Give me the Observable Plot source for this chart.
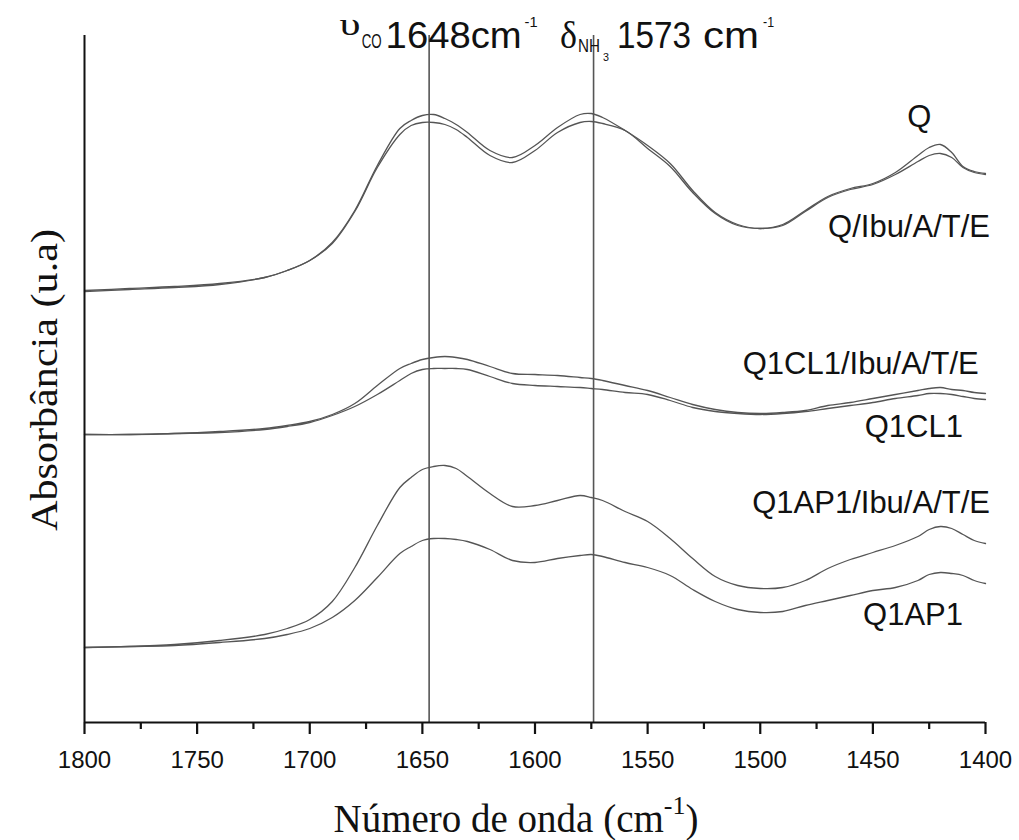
<!DOCTYPE html>
<html><head><meta charset="utf-8">
<script src="https://cdn.jsdelivr.net/npm/d3@7"></script>
<script src="https://cdn.jsdelivr.net/npm/@observablehq/plot@0.6"></script>
<style>body{margin:0;background:#fff}#chart svg{display:block}</style>
</head><body><div id="chart"></div>
<script>
// wavenumber grid (cm-1)
const wavenumber = [1800,1780,1760,1740,1720,1710,1700,1690,1680,1670,1660,1655,1650,1645,1640,1635,1630,1620,1610,1600,1590,1580,1575,1570,1560,1550,1540,1530,1520,1510,1500,1490,1480,1470,1460,1450,1440,1430,1425,1420,1415,1410,1405,1400];
// absorbance (arbitrary units, offset spectra)
const absQ        = [4.32,4.34,4.36,4.39,4.45,4.52,4.62,4.80,5.12,5.57,5.94,6.02,6.07,6.08,6.04,5.98,5.90,5.72,5.65,5.77,5.95,6.08,6.09,6.05,5.92,5.77,5.59,5.32,5.10,4.98,4.94,4.98,5.12,5.26,5.34,5.39,5.50,5.67,5.75,5.78,5.70,5.56,5.51,5.49];
const absQIbu     = [4.31,4.33,4.35,4.38,4.45,4.52,4.62,4.79,5.11,5.55,5.88,5.97,6.00,6.00,5.98,5.93,5.85,5.67,5.60,5.72,5.90,6.00,6.01,5.99,5.92,5.74,5.56,5.30,5.09,4.97,4.94,4.97,5.11,5.25,5.33,5.38,5.48,5.61,5.67,5.69,5.65,5.55,5.50,5.48];
const absQ1CL1Ibu = [2.88,2.88,2.89,2.91,2.94,2.97,3.01,3.08,3.19,3.37,3.54,3.59,3.63,3.65,3.66,3.65,3.63,3.56,3.49,3.48,3.47,3.45,3.44,3.42,3.37,3.32,3.25,3.18,3.13,3.10,3.09,3.10,3.12,3.17,3.20,3.24,3.28,3.32,3.34,3.35,3.33,3.32,3.30,3.29];
const absQ1CL1    = [2.88,2.88,2.89,2.90,2.93,2.96,3.00,3.07,3.16,3.28,3.42,3.49,3.53,3.54,3.54,3.54,3.53,3.46,3.39,3.37,3.36,3.35,3.34,3.33,3.30,3.28,3.22,3.15,3.11,3.09,3.08,3.09,3.11,3.14,3.17,3.20,3.24,3.27,3.29,3.29,3.28,3.26,3.24,3.23];
const absQ1AP1Ibu = [0.75,0.76,0.78,0.82,0.88,0.94,1.03,1.21,1.55,1.97,2.35,2.45,2.53,2.56,2.57,2.54,2.46,2.29,2.16,2.17,2.22,2.27,2.25,2.22,2.11,2.01,1.84,1.64,1.46,1.37,1.34,1.35,1.42,1.54,1.63,1.70,1.77,1.86,1.93,1.96,1.94,1.88,1.82,1.79];
const absQ1AP1    = [0.75,0.76,0.77,0.80,0.84,0.88,0.94,1.05,1.22,1.45,1.69,1.76,1.82,1.84,1.84,1.83,1.81,1.73,1.62,1.60,1.64,1.67,1.68,1.66,1.60,1.55,1.47,1.33,1.21,1.13,1.10,1.11,1.17,1.22,1.27,1.32,1.35,1.42,1.48,1.50,1.49,1.47,1.42,1.39];

const seriesNames = ["Q","Q/Ibu/A/T/E","Q1CL1/Ibu/A/T/E","Q1CL1","Q1AP1/Ibu/A/T/E","Q1AP1"];
const seriesValues = [absQ, absQIbu, absQ1CL1Ibu, absQ1CL1, absQ1AP1Ibu, absQ1AP1];

// curve labels: anchor wavenumber / absorbance (right end of text)
const labelWave = [1424, 1398, 1403, 1410, 1398, 1410];
const labelAbs  = [6.05, 4.95, 3.58, 2.95, 2.19, 1.07];

// band marker lines (cm-1)
const bandLines = [1647, 1574];

const majorTicks = [1800,1750,1700,1650,1600,1550,1500,1450,1400];
const minorTicks = [1775,1725,1675,1625,1575,1525,1475,1425];

const table = seriesNames.flatMap((s, i) => wavenumber.map((w, j) => ({s, w, a: seriesValues[i][j]})));
const labels = seriesNames.map((s, i) => ({s, w: labelWave[i], a: labelAbs[i]}));

const SANS = "'Liberation Sans', Arial, Helvetica, sans-serif";
const SERIF = "'Liberation Serif', 'Times New Roman', Times, serif";

const plot = Plot.plot({
  width: 1019, height: 840,
  marginLeft: 84, marginRight: 34, marginTop: 35, marginBottom: 118,
  x: {domain: [1800, 1400], label: null},
  y: {domain: [0, 6.87], axis: null},
  style: {fontFamily: SANS, fontSize: "24px", color: "#111", background: "#fff", overflow: "visible"},
  marks: [
    Plot.ruleX(bandLines, {stroke: "#555", strokeWidth: 1.6}),
    Plot.line(table, {x: "w", y: "a", z: "s", stroke: "#555", strokeWidth: 1.3, curve: "catmull-rom"}),
    Plot.text(labels, {x: "w", y: "a", text: "s", textAnchor: "end", fontSize: 31, fill: "#111"}),
    Plot.axisX(majorTicks, {tickSize: 12, tickPadding: 16, fontSize: 24, stroke: "#111", strokeWidth: 2.2, label: null, tickFormat: d => String(d)}),
    Plot.axisX(minorTicks, {tickSize: 7, stroke: "#111", strokeWidth: 2.2, label: null, tickFormat: () => ""}),
    Plot.ruleY([0], {stroke: "#111", strokeWidth: 2}),
    Plot.ruleX([1800], {stroke: "#111", strokeWidth: 2})
  ]
});

document.getElementById("chart").appendChild(plot);

const svg = d3.select(plot);
const xs = plot.scale("x");
const lx1 = xs.apply(bandLines[0]);
const lx2 = xs.apply(bandLines[1]);

function piece(x, y, str, family, size, len) {
  const t = svg.append("text")
    .attr("x", x).attr("y", y)
    .attr("text-anchor", "start")
    .attr("font-family", family).attr("font-size", size)
    .attr("fill", "#111")
    .text(str);
  if (len) t.attr("textLength", len).attr("lengthAdjust", "spacingAndGlyphs");
  return t;
}
// υCO 1648 cm-1
piece(lx1 - 89, 35, "υ", SERIF, 32, 21);
piece(lx1 - 67, 48, "CO", SANS, 20, 20);
piece(lx1 - 43, 48, "1648cm", SANS, 36, 136);
piece(lx1 + 96, 27, "-1", SANS, 14, 13);
// δNH3 1573 cm-1
piece(lx2 - 33, 48, "δ", SERIF, 38, 17);
piece(lx2 - 15, 52, "NH", SANS, 18, 22);
piece(lx2 + 10, 61, "3", SANS, 11, 6);
piece(lx2 + 24, 48, "1573", SANS, 36, 74);
piece(lx2 + 110, 48, "cm", SANS, 36, 56);
piece(lx2 + 170, 27, "-1", SANS, 14, 11);

// axis titles
const xt = svg.append("text")
  .attr("x", 516).attr("y", 832).attr("text-anchor", "middle")
  .attr("font-family", SERIF).attr("font-size", 39).attr("fill", "#111");
xt.append("tspan").text("Número de onda (cm");
xt.append("tspan").attr("dy", -18).attr("font-size", 26).text("-1");
xt.append("tspan").attr("dy", 18).text(")");

svg.append("text")
  .attr("transform", "translate(57,380) rotate(-90)")
  .attr("text-anchor", "middle")
  .attr("font-family", SERIF).attr("font-size", 37).attr("fill", "#111")
  .attr("textLength", 302).attr("lengthAdjust", "spacingAndGlyphs")
  .text("Absorbância (u.a)");
</script>
</body></html>
